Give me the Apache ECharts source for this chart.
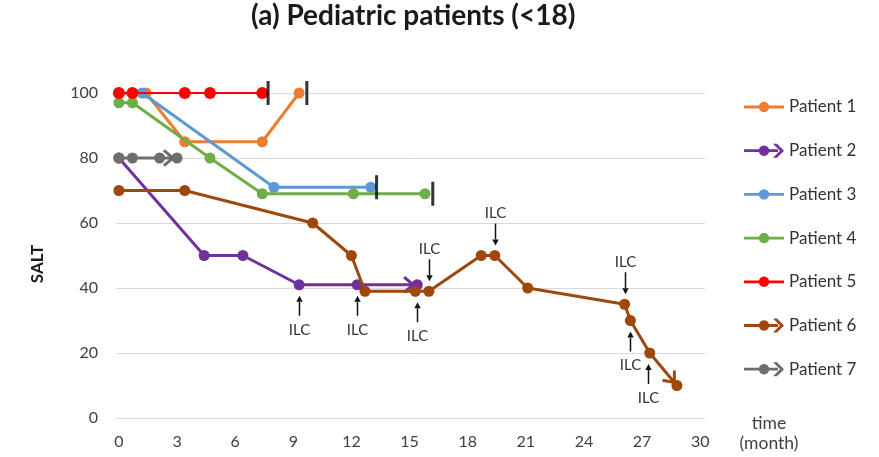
<!DOCTYPE html>
<html><head><meta charset="utf-8">
<script src="https://cdn.jsdelivr.net/npm/echarts@6/dist/echarts.min.js"></script>
<style>html,body{margin:0;padding:0;background:#fff}#c{width:879px;height:457px}</style>
</head><body><div id="c"></div>
<script>
// ---- data ----
const patientNames = ['Patient 1','Patient 2','Patient 3','Patient 4','Patient 5','Patient 6','Patient 7'];
const p1Time = [0, 1.4, 3.4, 7.4, 9.3];
const p1Salt = [100, 100, 85, 85, 100];
const p2Time = [0, 4.4, 6.4, 9.3, 12.3, 15.4];
const p2Salt = [80, 50, 50, 41, 41, 41];
const p3Time = [0, 1.2, 8.0, 13.0];
const p3Salt = [100, 100, 71, 71];
const p4Time = [0, 0.7, 4.7, 7.4, 12.1, 15.8];
const p4Salt = [97, 97, 80, 69, 69, 69];
const p5Time = [0, 0.7, 3.4, 4.7, 7.4];
const p5Salt = [100, 100, 100, 100, 100];
const p6Time = [0, 3.4, 10.0, 12.0, 12.7, 15.3, 16.0, 18.7, 19.4, 21.1, 26.1, 26.4, 27.4, 28.8];
const p6Salt = [70, 70, 60, 50, 39, 39, 39, 50, 50, 40, 35, 30, 20, 10];
const p7Time = [0, 0.7, 2.1, 3.0];
const p7Salt = [80, 80, 80, 80];
const arrowPatients = [1, 5, 6]; // indexes of patients whose line ends with an arrow
const censorTime = [9.7, 13.3, 16.2, 7.7];
const censorSalt = [100, 71, 69, 100];
const ilcTime = [9.3, 12.3, 15.4, 16.0, 19.4, 26.1, 26.4, 27.3];
const ilcSalt = [41, 41, 39, 39, 50, 35, 30, 20];
const ilcSide = ['below', 'below', 'below', 'above', 'above', 'above', 'below', 'below'];
const xTickLabels = [0, 3, 6, 9, 12, 15, 18, 21, 24, 27, 30];
const yMin = 0, yMax = 100, yStep = 20;

// ---- styling ----
const colors = ['#ED7D31', '#7030A0', '#5B9BD5', '#70AD47', '#FF0000', '#9E480E', '#6E6E6E'];
const times = [p1Time, p2Time, p3Time, p4Time, p5Time, p6Time, p7Time];
const salts = [p1Salt, p2Salt, p3Salt, p4Salt, p5Salt, p6Salt, p7Salt];
const FONT = 'Lato';

function circlePath(cx, cy, r, n) {
  let s = '';
  for (let i = 0; i < n; i++) {
    const a = (i / n) * Math.PI * 2;
    s += (i === 0 ? 'M' : 'L') + (cx + r * Math.cos(a)).toFixed(2) + ',' + (cy + r * Math.sin(a)).toFixed(2) + ' ';
  }
  return s + 'Z ';
}
const iconDot = 'path://M0,5.6 L40,5.6 L40,8.4 L0,8.4 Z ' + circlePath(20, 7, 5.2, 24) + 'M0,0 L0.01,0 L0.01,0.01 Z M0,14 L0.01,14 L0.01,13.99 Z';
const iconArrow = 'path://M0,5.6 L34,5.6 L34,8.4 L0,8.4 Z ' + circlePath(20, 7, 5.2, 24) + 'M29,0 L33,0 L40,7 L33,14 L29,14 L36,7 Z';

const series = [];
patientNames.forEach((name, i) => {
  series.push({
    name: name,
    type: 'line',
    data: times[i].map((t, k) => [t, salts[i][k]]),
    symbol: 'circle',
    symbolSize: i === 4 ? 12 : 11,
    lineStyle: { color: colors[i], width: i === 4 ? 2 : 3 },
    itemStyle: { color: colors[i] },
    z: 3 + i,
    animation: false
  });
});

// arrow heads at line ends
series.push({
  type: 'custom',
  z: 2,
  silent: true,
  animation: false,
  data: arrowPatients.map(i => {
    const n = times[i].length;
    return [times[i][n - 2], salts[i][n - 2], times[i][n - 1], salts[i][n - 1], i];
  }),
  renderItem: function (params, api) {
    const p0 = api.coord([api.value(0), api.value(1)]);
    const p1 = api.coord([api.value(2), api.value(3)]);
    const dx = p1[0] - p0[0], dy = p1[1] - p0[1];
    const L = Math.sqrt(dx * dx + dy * dy);
    const ux = dx / L, uy = dy / L;
    const tip = [p1[0] - ux * 4, p1[1] - uy * 4];
    const len = 12, ang = 40 * Math.PI / 180;
    const c = Math.cos(ang), s = Math.sin(ang);
    const a1 = [tip[0] - len * (ux * c - uy * s), tip[1] - len * (uy * c + ux * s)];
    const a2 = [tip[0] - len * (ux * c + uy * s), tip[1] - len * (uy * c - ux * s)];
    return {
      type: 'polyline',
      shape: { points: [a1, tip, a2] },
      style: { stroke: colors[api.value(4)], lineWidth: 3, fill: null, lineJoin: 'miter' }
    };
  }
});

// censor bars
series.push({
  type: 'scatter',
  z: 20,
  silent: true,
  animation: false,
  symbol: 'rect',
  symbolSize: [3, 24],
  itemStyle: { color: '#000' },
  data: censorTime.map((t, k) => [t, censorSalt[k]])
});

// ILC annotations
series.push({
  type: 'custom',
  z: 25,
  silent: true,
  animation: false,
  data: ilcTime.map((t, k) => [t, ilcSalt[k], ilcSide[k] === 'below' ? 1 : -1]),
  renderItem: function (params, api) {
    const p = api.coord([api.value(0), api.value(1)]);
    const d = api.value(2);
    const x = Math.round(p[0]) + 0.5;
    const tipY = p[1] + d * (d > 0 ? 11 : 10);
    const tailY = p[1] + d * (d > 0 ? 31 : 32);
    const textY = p[1] + d * (d > 0 ? 45 : 42);
    const baseY = tipY + d * 6;
    return {
      type: 'group',
      children: [
        { type: 'line', shape: { x1: x, y1: tailY, x2: x, y2: baseY }, style: { stroke: '#111', lineWidth: 1.5 } },
        { type: 'polygon', shape: { points: [[x, tipY], [x - 3.2, baseY], [x + 3.2, baseY]] }, style: { fill: '#111' } },
        { type: 'text', style: { text: 'ILC', x: x, y: textY, align: 'center', verticalAlign: 'middle', fontSize: 15, fontFamily: FONT, fill: '#333' } }
      ]
    };
  }
});

const chart = echarts.init(document.getElementById('c'), null, { renderer: 'canvas' });
chart.setOption({
  backgroundColor: '#fff',
  animation: false,
  title: {
    text: '(a) Pediatric patients (<18)',
    left: 251,
    top: 2,
    padding: 0,
    textStyle: { fontFamily: FONT, fontWeight: 'bold', fontSize: 28, color: '#1a1a1a' }
  },
  grid: { left: 116, right: 174, top: 93, bottom: 39, containLabel: false },
  legend: {
    orient: 'vertical',
    left: 744,
    top: 98,
    padding: 0,
    itemWidth: 40,
    itemHeight: 14,
    itemGap: 25.7,
    textStyle: { fontFamily: FONT, fontSize: 17, color: '#333', lineHeight: 18 },
    data: patientNames.map((n, i) => ({ name: n, icon: arrowPatients.includes(i) ? iconArrow : iconDot }))
  },
  xAxis: {
    type: 'value',
    min: -0.15,
    max: 30.25,
    axisLine: { show: false },
    axisTick: { show: false },
    splitLine: { show: false },
    axisLabel: {
      customValues: xTickLabels,
      margin: 16,
      fontFamily: FONT, fontSize: 16, color: '#404040'
    }
  },
  yAxis: {
    type: 'value',
    min: yMin, max: yMax, interval: yStep,
    axisLine: { show: false },
    axisTick: { show: false },
    splitLine: { lineStyle: { color: '#D9D9D9', width: 1 } },
    axisLabel: { margin: 18, fontFamily: FONT, fontSize: 16, color: '#404040' }
  },
  graphic: [
    { type: 'text', x: 38, y: 264, rotation: Math.PI / 2, style: { text: 'SALT', align: 'center', verticalAlign: 'middle', fontFamily: FONT, fontWeight: 'bold', fontSize: 17, fill: '#1a1a1a' } },
    { type: 'text', x: 769, y: 423, style: { text: 'time', align: 'center', verticalAlign: 'middle', fontFamily: FONT, fontSize: 17.5, fill: '#404040' } },
    { type: 'text', x: 769, y: 443, style: { text: '(month)', align: 'center', verticalAlign: 'middle', fontFamily: FONT, fontSize: 17.5, fill: '#404040' } }
  ],
  series: series
});
</script>
</body></html>
